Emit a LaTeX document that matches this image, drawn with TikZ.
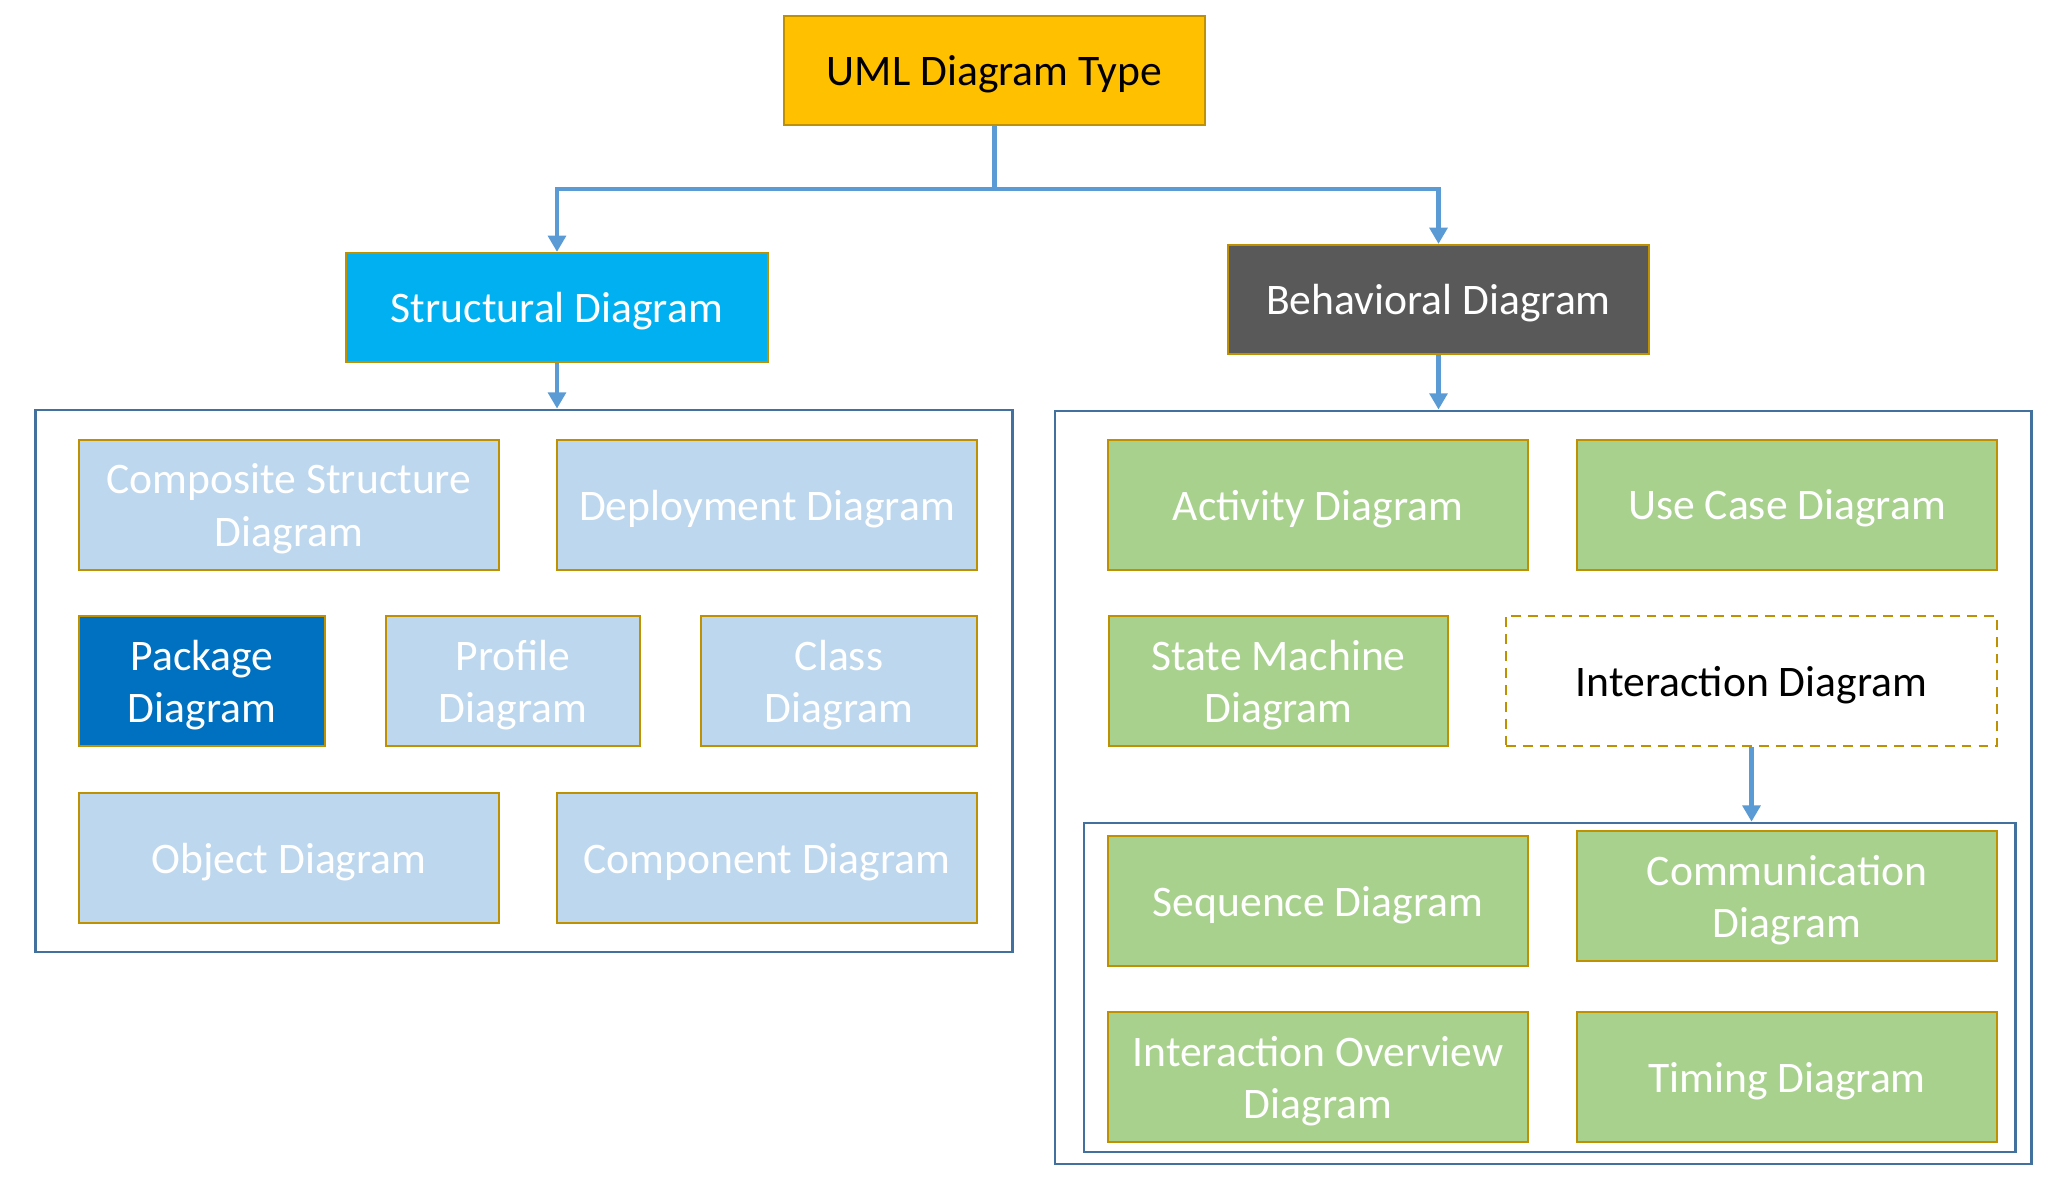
\documentclass[tikz,border=0pt]{standalone}
\usepackage{fontspec}
\setmainfont{Carlito}
\usetikzlibrary{arrows.meta,positioning}
\definecolor{gold}{HTML}{BF9000}
\definecolor{amber}{HTML}{FFC000}
\definecolor{cyanb}{HTML}{00B0F0}
\definecolor{darkg}{HTML}{595959}
\definecolor{paleb}{HTML}{BDD7EE}
\definecolor{pkgb}{HTML}{0070C0}
\definecolor{leaf}{HTML}{A9D18E}
\definecolor{frame}{HTML}{41719C}
\definecolor{wire}{HTML}{5B9BD5}

\begin{document}
\begin{tikzpicture}[x=0.01cm, y=-0.01cm,
    box/.style={draw=gold, line width=0.6pt, inner sep=0pt, align=center, text=white, text depth=0pt, minimum height=1.3cm, minimum width=4.2cm, font=\fontsize{12.4}{14.8}\selectfont},
    head/.style={box, minimum height=1.09cm, minimum width=4.21cm},
    sbox/.style={box, fill=paleb},
    bbox/.style={box, fill=leaf},
    grp/.style={draw=frame, line width=0.7pt, fill=white, inner sep=0pt},
    arr/.style={-{Triangle[length=4.6pt, width=5pt]}, line width=1.4pt, wire},
]
\useasboundingbox (0,0) rectangle (2055,1183);

% containers
\node[grp, minimum width=9.76cm, minimum height=5.42cm] (lbox) at (524,681) {};
\node[grp, minimum width=9.76cm, minimum height=7.53cm] (rbox) at (1543,787.5) {};
\node[grp, minimum width=9.31cm, minimum height=3.29cm] (ibox) at (1549.5,987.5) {};

% top levels
\node[head, fill=amber, text=black] (uml) at (994.5,70.5) {UML Diagram Type};
\node[head, fill=cyanb] (struct) at (557,307.5) {Structural Diagram};
\node[head, fill=darkg] (behav) at (1438.5,299.5) {Behavioral Diagram};
\coordinate (split) at (994.5,189);

% structural
\node[sbox] (comp) at (289,505) {Composite Structure\\Diagram};
\node[sbox] (depl) at (767,505) {Deployment Diagram};
\node[box, fill=pkgb, minimum width=2.46cm] (pkg) at (202,681) {Package\\Diagram};
\node[sbox, minimum width=2.54cm] (prof) at (513,681) {Profile\\Diagram};
\node[sbox, minimum width=2.76cm] (cls) at (839,681) {Class\\Diagram};
\node[sbox] (obj) at (289,858) {Object Diagram};
\node[sbox] (cmpn) at (767,858) {Component Diagram};

% behavioral
\node[bbox] (act) at (1318,505) {Activity Diagram};
\node[bbox] (usec) at (1787,505) {Use Case Diagram};
\node[bbox, minimum width=3.39cm] (stm) at (1278.5,681) {State Machine\\Diagram};
\node[box, fill=white, text=black, dash pattern=on 2.8pt off 2pt, minimum width=4.91cm] (inter) at (1751.5,681) {Interaction Diagram};

% interaction
\node[bbox] (seq) at (1318,901) {Sequence Diagram};
\node[bbox] (comm) at (1787,896) {Communication\\Diagram};
\node[bbox] (iov) at (1318,1077) {Interaction Overview\\Diagram};
\node[bbox] (tim) at (1787,1077) {Timing Diagram};

\draw[line width=1.4pt, wire] (uml) -- (split);
\draw[arr] (split) -| (struct);
\draw[arr] (split) -| (behav);
\draw[arr] (struct) -- (struct |- lbox.north);
\draw[arr] (behav) -- (behav |- rbox.north);
\draw[arr] (inter) -- (inter |- ibox.north);
\end{tikzpicture}
\end{document}
